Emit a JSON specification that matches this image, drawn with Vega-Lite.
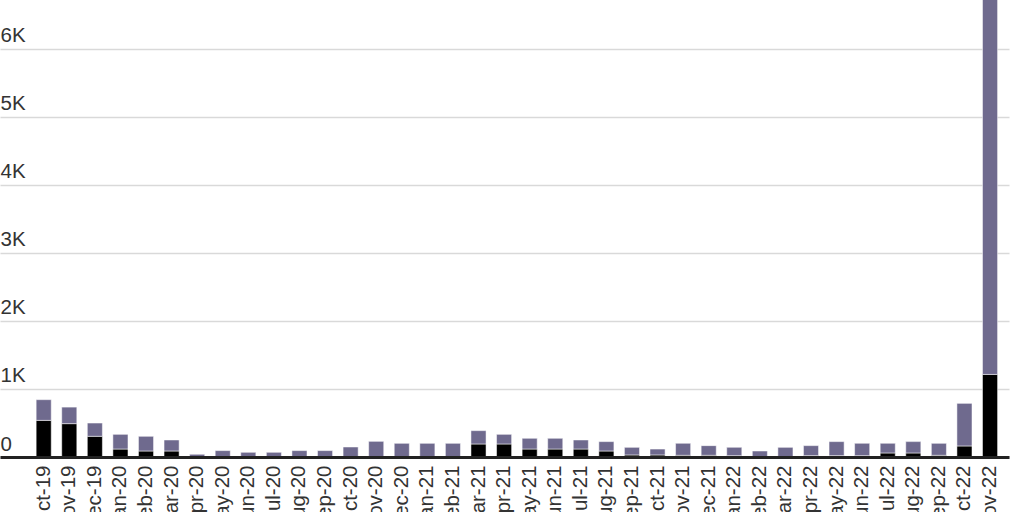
{
  "$schema": "https://vega.github.io/schema/vega-lite/v6.json",
  "autosize": "none",
  "padding": {"left": 0, "top": 0, "right": 15, "bottom": 55},
  "width": 1009,
  "height": 457,
  "background": "white",
  "data": {
    "values": [
      {"month": "Oct-19", "a": 538, "b": 304},
      {"month": "Nov-19", "a": 490, "b": 243},
      {"month": "Dec-19", "a": 304, "b": 195},
      {"month": "Jan-20", "a": 117, "b": 216},
      {"month": "Feb-20", "a": 88, "b": 216},
      {"month": "Mar-20", "a": 88, "b": 162},
      {"month": "Apr-20", "a": 0, "b": 40},
      {"month": "May-20", "a": 0, "b": 94},
      {"month": "Jun-20", "a": 0, "b": 69},
      {"month": "Jul-20", "a": 0, "b": 69},
      {"month": "Aug-20", "a": 0, "b": 94},
      {"month": "Sep-20", "a": 0, "b": 94},
      {"month": "Oct-20", "a": 0, "b": 147},
      {"month": "Nov-20", "a": 0, "b": 230},
      {"month": "Dec-20", "a": 0, "b": 201},
      {"month": "Jan-21", "a": 0, "b": 201},
      {"month": "Feb-21", "a": 0, "b": 201},
      {"month": "Mar-21", "a": 191, "b": 196},
      {"month": "Apr-21", "a": 191, "b": 142},
      {"month": "May-21", "a": 117, "b": 157},
      {"month": "Jun-21", "a": 117, "b": 157},
      {"month": "Jul-21", "a": 117, "b": 133},
      {"month": "Aug-21", "a": 88, "b": 138},
      {"month": "Sep-21", "a": 30, "b": 112},
      {"month": "Oct-21", "a": 30, "b": 87},
      {"month": "Nov-21", "a": 25, "b": 176},
      {"month": "Dec-21", "a": 25, "b": 142},
      {"month": "Jan-22", "a": 20, "b": 122},
      {"month": "Feb-22", "a": 5, "b": 83},
      {"month": "Mar-22", "a": 5, "b": 137},
      {"month": "Apr-22", "a": 20, "b": 147},
      {"month": "May-22", "a": 20, "b": 206},
      {"month": "Jun-22", "a": 20, "b": 181},
      {"month": "Jul-22", "a": 59, "b": 142},
      {"month": "Aug-22", "a": 59, "b": 167},
      {"month": "Sep-22", "a": 25, "b": 176},
      {"month": "Oct-22", "a": 162, "b": 626},
      {"month": "Nov-22", "a": 1213, "b": 5687}
    ]
  },
  "transform": [
    {"fold": ["a", "b"], "as": ["series", "value"]}
  ],
  "mark": {"type": "bar", "clip": true, "stroke": "#ffffff", "strokeOpacity": 0.5, "strokeWidth": 1},
  "encoding": {
    "x": {
      "field": "month",
      "type": "nominal",
      "sort": null,
      "scale": {"paddingInner": 0.41, "paddingOuter": 0.93, "align": 0.76},
      "axis": {
        "title": null,
        "ticks": false,
        "domainColor": "#222222",
        "domainWidth": 3,
        "labelAngle": -90,
        "labelAlign": "right",
        "labelBaseline": "middle",
        "labelPadding": 8,
        "labelFont": "Liberation Sans",
        "labelFontSize": 20.5,
        "labelColor": "#333333",
        "zindex": 1
      }
    },
    "y": {
      "field": "value",
      "type": "quantitative",
      "stack": "zero",
      "scale": {"domain": [0, 6713], "nice": false},
      "axis": {
        "title": null,
        "values": [0, 1000, 2000, 3000, 4000, 5000, 6000],
        "labelExpr": "datum.value == 0 ? '0' : (datum.value / 1000) + 'K'",
        "domain": false,
        "ticks": false,
        "labelAlign": "left",
        "labelBaseline": "alphabetic",
        "labelPadding": 0,
        "labelOffset": -7,
        "labelFont": "Liberation Sans",
        "labelFontSize": 20.5,
        "labelColor": "#333333",
        "gridColor": "#d9d9d9",
        "gridWidth": 1.5
      }
    },
    "color": {
      "field": "series",
      "type": "nominal",
      "scale": {"domain": ["a", "b"], "range": ["#000000", "#6f6a8e"]},
      "legend": null
    },
    "order": {"field": "series", "sort": "ascending"}
  },
  "config": {
    "view": {"stroke": null}
  }
}
